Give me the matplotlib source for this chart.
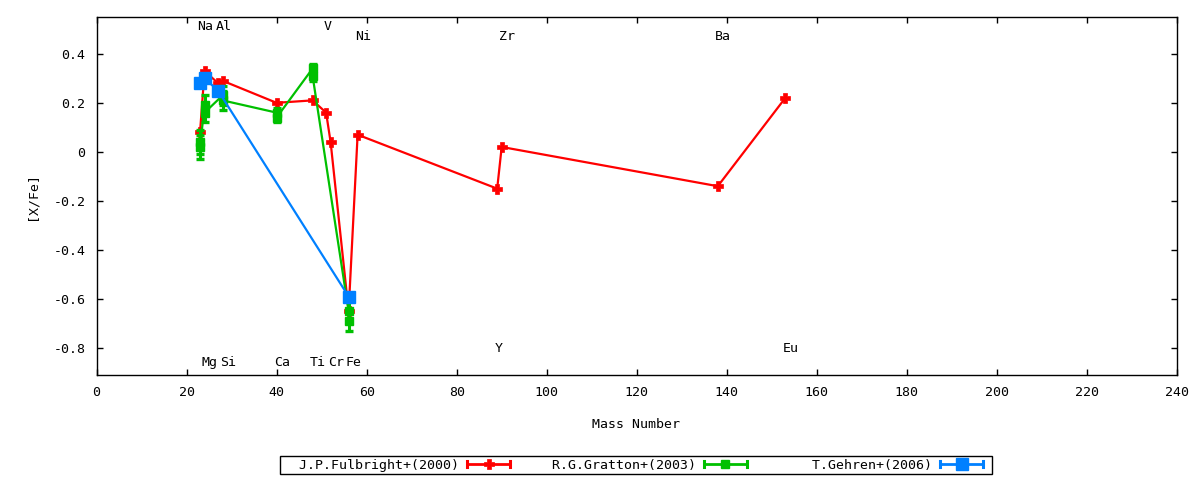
import numpy as np
import matplotlib
matplotlib.use('Agg')
import matplotlib.pyplot as plt
from matplotlib.lines import Line2D
from matplotlib.legend_handler import HandlerBase
from matplotlib.ticker import MultipleLocator, FuncFormatter

plt.rcParams['font.family'] = 'DejaVu Sans Mono'
plt.rcParams['font.size'] = 9.5
plt.rcParams['axes.unicode_minus'] = False

# J.P.Fulbright+(2000)
fulb_mass = [23, 24, 27, 28, 40, 48, 51, 52, 56, 58, 89, 90, 138, 153]
fulb_xfe = [0.08, 0.33, 0.28, 0.29, 0.20, 0.21, 0.16, 0.04, -0.65, 0.07, -0.15, 0.02, -0.14, 0.22]

# R.G.Gratton+(2003)
grat_mass = [23, 23, 24, 24, 28, 28, 40, 40, 48, 48, 56, 56]
grat_xfe = [0.04, 0.02, 0.19, 0.16, 0.23, 0.21, 0.16, 0.14, 0.34, 0.31, -0.65, -0.69]
grat_err = [0.05, 0.05, 0.04, 0.04, 0.04, 0.04, 0.02, 0.02, 0.02, 0.02, 0.04, 0.04]

# T.Gehren+(2006)
gehr_mass = [23, 24, 27, 56]
gehr_xfe = [0.28, 0.30, 0.25, -0.59]

# element names written on the plot
elem_names = ['Na', 'Al', 'V', 'Ni', 'Zr', 'Ba', 'Mg', 'Si', 'Ca', 'Ti', 'Cr', 'Fe', 'Y', 'Eu']
elem_mass = [23, 27, 51, 58, 90, 138, 24, 28, 40, 48, 52, 56, 89, 153]
elem_y = [0.51, 0.51, 0.51, 0.47, 0.47, 0.47, -0.86, -0.86, -0.86, -0.86, -0.86, -0.86, -0.8, -0.8]

labels = ['  J.P.Fulbright+(2000)', '  R.G.Gratton+(2003)', '     T.Gehren+(2006)']

RED = '#ff0000'
GREEN = '#00c000'
BLUE = '#0080ff'


class ErrbarHandler(HandlerBase):
    # gnuplot style sample: |---marker---|
    def create_artists(self, legend, orig, xdescent, ydescent, width, height, fontsize, trans):
        x0 = -xdescent
        x1 = x0 + 0.88 * width
        y = height / 2 - ydescent
        c = orig.get_color()
        cap = 0.3 * height
        line = Line2D([x0, x1], [y, y], color=c, lw=2)
        caps = Line2D([x0, x0, np.nan, x1, x1], [y - cap, y + cap, np.nan, y - cap, y + cap],
                      color=c, lw=2.2)
        mark = Line2D([(x0 + x1) / 2], [y], marker=orig.get_marker(), ms=orig.get_markersize(),
                      color=c, mew=orig.get_markeredgewidth(), ls='none')
        for a in (line, caps, mark):
            a.set_transform(trans)
        return [line, caps, mark]


fig = plt.figure(figsize=(12, 4.8), dpi=100)
ax = fig.add_axes([96.5 / 1200, 1 - 375 / 480, 1080.5 / 1200, 358 / 480])

ax.plot(fulb_mass, fulb_xfe, color=RED, lw=1.6, marker='P', ms=7, mew=0.5, zorder=2)
ax.errorbar(grat_mass, grat_xfe, yerr=grat_err, color=GREEN, lw=1.6, marker='s', ms=6,
            elinewidth=2.2, capsize=3, capthick=2.4, zorder=3)
ax.plot(gehr_mass, gehr_xfe, color=BLUE, lw=1.6, marker='s', ms=8, zorder=4)

for name, m, y in zip(elem_names, elem_mass, elem_y):
    ax.text(m - 0.6, y, name, ha='left', va='center')

ax.set_xlim(0, 240)
ax.set_ylim(-0.91, 0.55)
ax.xaxis.set_major_locator(MultipleLocator(20))
ax.yaxis.set_major_locator(MultipleLocator(0.2))
ax.yaxis.set_major_formatter(FuncFormatter(lambda v, p: f'{round(v, 1) + 0.0:g}'))
ax.tick_params(direction='in', top=True, right=True, length=4, width=1, pad=8)
for s in ax.spines.values():
    s.set_linewidth(1)

fig.text(32 / 1200, 1 - 196 / 480, '[X/Fe]', rotation=90, ha='center', va='center')
fig.text(636 / 1200, 1 - 425 / 480, 'Mass Number', ha='center', va='center')

handles = [Line2D([], [], color=RED, marker='P', ms=7, mew=0.5),
           Line2D([], [], color=GREEN, marker='s', ms=6, mew=1),
           Line2D([], [], color=BLUE, marker='s', ms=8, mew=1)]
leg = fig.legend(handles, labels, loc='center', bbox_to_anchor=(636 / 1200, 1 - 465 / 480),
                 ncol=3, markerfirst=False, handler_map={Line2D: ErrbarHandler()},
                 handlelength=3.7, handletextpad=0.6, columnspacing=1.5, borderpad=0.2,
                 borderaxespad=0, fancybox=False, framealpha=1, edgecolor='black')
leg.get_frame().set_linewidth(1)

fig.savefig('out.png', dpi=100)
